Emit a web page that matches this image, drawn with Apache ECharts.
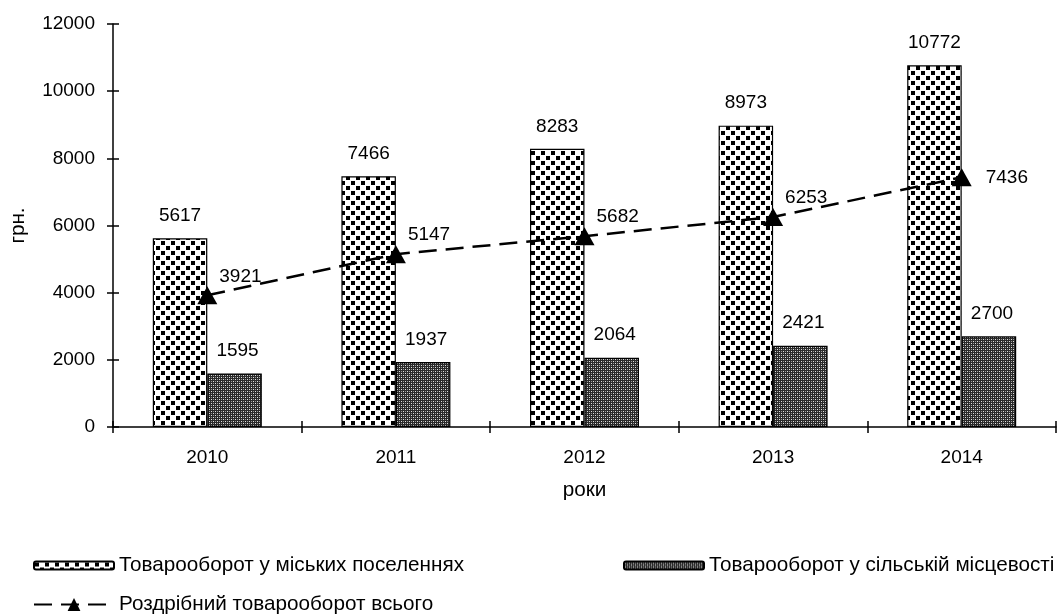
<!DOCTYPE html>
<html>
<head>
<meta charset="utf-8">
<script src="https://cdn.jsdelivr.net/npm/echarts@6/dist/echarts.min.js"></script>
<style>
html,body{margin:0;padding:0;background:#fff;}
#chart{width:1057px;height:614px;}
</style>
</head>
<body>
<div id="chart"></div>
<script>
const categories = ['2010', '2011', '2012', '2013', '2014'];
const urbanValues = [5617, 7466, 8283, 8973, 10772];
const ruralValues = [1595, 1937, 2064, 2421, 2700];
const totalValues = [3921, 5147, 5682, 6253, 7436];
const seriesNames = ['Товарооборот у міських поселеннях', 'Товарооборот у сільській місцевості', 'Роздрібний товарооборот всього'];
const yTicks = {min: 0, max: 12000, interval: 2000};

function makeUrbanPattern() {
  const c = document.createElement('canvas');
  c.width = 10; c.height = 10;
  const g = c.getContext('2d');
  g.fillStyle = '#ffffff'; g.fillRect(0, 0, 10, 10);
  g.fillStyle = '#000000';
  g.fillRect(1, 1, 4, 4);
  g.fillRect(6, 6, 4, 4);
  return c;
}
function makeRuralPattern() {
  const c = document.createElement('canvas');
  c.width = 4; c.height = 4;
  const g = c.getContext('2d');
  g.fillStyle = '#2a2a2a'; g.fillRect(0, 0, 4, 4);
  g.fillStyle = '#e0e0e0';
  g.fillRect(1, 1, 1, 1);
  g.fillRect(3, 3, 1, 1);
  g.fillStyle = '#9a9a9a';
  g.fillRect(3, 1, 1, 1);
  g.fillRect(1, 3, 1, 1);
  return c;
}

const FONT = 'Liberation Sans, Arial, sans-serif';
const FS = 19;
const FT = 20.7;
const chart = echarts.init(document.getElementById('chart'), null, {renderer: 'canvas'});

const lineData = totalValues.map((v, i) => {
  if (i === totalValues.length - 1) {
    return {value: v, label: {offset: [12, 0]}};
  }
  return v;
});

const legendBase = {
  orient: 'horizontal',
  itemGap: 5,
  selectedMode: false,
  textStyle: {fontFamily: FONT, fontSize: FT, color: '#000'},
  padding: 0
};

chart.setOption({
  backgroundColor: '#ffffff',
  animation: false,
  textStyle: {fontFamily: FONT},
  grid: {left: 113, right: 1, top: 24, bottom: 187},
  legend: [
    Object.assign({}, legendBase, {left: 33, top: 555, itemWidth: 80, itemHeight: 8, data: [seriesNames[0]]}),
    Object.assign({}, legendBase, {left: 623, top: 555, itemWidth: 80, itemHeight: 8, data: [seriesNames[1]]}),
    Object.assign({}, legendBase, {left: 33, top: 594, itemWidth: 80, itemHeight: 16, data: [seriesNames[2]]})
  ],
  xAxis: [
    {
      type: 'category', data: categories, boundaryGap: true,
      name: 'роки', nameLocation: 'middle', nameGap: 53,
      nameTextStyle: {fontFamily: FONT, fontSize: FT, color: '#000'},
      axisLine: {lineStyle: {color: '#000', width: 1.5}},
      axisTick: {show: true, inside: false, length: 6, alignWithLabel: false, lineStyle: {color: '#000', width: 1.5}},
      axisLabel: {fontFamily: FONT, fontSize: FS, color: '#000', margin: 21},
      splitLine: {show: false}
    },
    {
      type: 'category', data: categories, boundaryGap: true, position: 'bottom',
      axisLine: {show: false},
      axisTick: {show: true, inside: true, length: 6, alignWithLabel: false, lineStyle: {color: '#000', width: 1.5}},
      axisLabel: {show: false},
      splitLine: {show: false}
    }
  ],
  yAxis: [
    {
      type: 'value', min: yTicks.min, max: yTicks.max, interval: yTicks.interval,
      name: 'грн.', nameLocation: 'middle', nameGap: 84, nameRotate: 90,
      nameTextStyle: {fontFamily: FONT, fontSize: FT, color: '#000'},
      axisLine: {show: true, lineStyle: {color: '#000', width: 1.5}},
      axisTick: {show: true, inside: false, length: 6, lineStyle: {color: '#000', width: 1.5}},
      axisLabel: {fontFamily: FONT, fontSize: FS, color: '#000', margin: 18, formatter: v => String(v)},
      splitLine: {show: false}
    },
    {
      type: 'value', min: yTicks.min, max: yTicks.max, interval: yTicks.interval, position: 'left',
      axisLine: {show: false},
      axisTick: {show: true, inside: true, length: 6, lineStyle: {color: '#000', width: 1.5}},
      axisLabel: {show: false},
      splitLine: {show: false}
    }
  ],
  series: [
    {
      name: seriesNames[0], type: 'bar', data: urbanValues,
      barWidth: 54.5, barGap: '0%',
      itemStyle: {color: {image: makeUrbanPattern(), repeat: 'repeat'}, borderColor: '#000', borderWidth: 1.2},
      label: {show: true, position: 'top', distance: 13, fontFamily: FONT, fontSize: FS, color: '#000'},
      z: 2
    },
    {
      name: seriesNames[1], type: 'bar', data: ruralValues,
      barWidth: 54.5, barGap: '0%',
      itemStyle: {color: {image: makeRuralPattern(), repeat: 'repeat'}, borderColor: '#000', borderWidth: 1.2},
      label: {show: true, position: 'top', distance: 13, offset: [3, 0], fontFamily: FONT, fontSize: FS, color: '#000'},
      z: 2
    },
    {
      name: seriesNames[2], type: 'line', data: lineData,
      symbol: 'triangle', symbolSize: [20, 18],
      itemStyle: {color: '#000'},
      lineStyle: {color: '#000', width: 2.5, type: [18, 9]},
      label: {show: true, position: 'right', distance: 2, offset: [0, -19], fontFamily: FONT, fontSize: FS, color: '#000'},
      z: 5
    }
  ]
});
</script>
</body>
</html>
